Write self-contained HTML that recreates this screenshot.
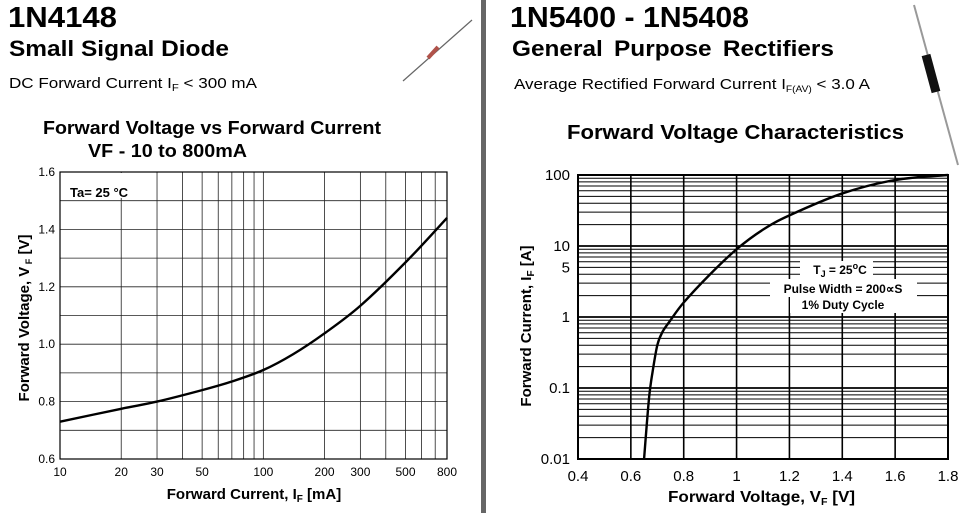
<!DOCTYPE html>
<html><head><meta charset="utf-8"><style>
html,body{margin:0;padding:0;background:#fff;}
svg{display:block;font-family:"Liberation Sans",Arial,sans-serif;}
</style></head><body>
<svg id="s" width="970" height="513" viewBox="0 0 970 513" xmlns="http://www.w3.org/2000/svg">
<text x="8" y="27" font-size="29" font-weight="bold" textLength="109" lengthAdjust="spacingAndGlyphs">1N4148</text>
<text x="9" y="56" font-size="22" font-weight="bold" textLength="220" lengthAdjust="spacingAndGlyphs">Small Signal Diode</text>
<text x="9" y="88" font-size="15" textLength="248" lengthAdjust="spacingAndGlyphs">DC Forward Current   I<tspan font-size="10" dy="3">F</tspan><tspan dy="-3"> &lt; 300  mA</tspan></text>
<text x="43" y="134" font-size="18" font-weight="bold" textLength="338" lengthAdjust="spacingAndGlyphs">Forward Voltage vs Forward Current</text>
<text x="88" y="157" font-size="18" font-weight="bold" textLength="159" lengthAdjust="spacingAndGlyphs">VF - 10 to 800mA</text>
<g>
<line x1="403" y1="81" x2="472" y2="20" stroke="#666" stroke-width="1.2"/>
<line x1="428" y1="58" x2="438" y2="47" stroke="#b0524a" stroke-width="4"/>
</g>
<rect x="481" y="0" width="5" height="513" fill="#666"/>
<text x="510" y="27" font-size="29" font-weight="bold" textLength="239" lengthAdjust="spacingAndGlyphs">1N5400 - 1N5408</text>
<text x="512" y="56" font-size="22" font-weight="bold" word-spacing="4" textLength="322" lengthAdjust="spacingAndGlyphs">General Purpose Rectifiers</text>
<text x="514" y="89" font-size="15" textLength="356" lengthAdjust="spacingAndGlyphs">Average Rectified Forward Current    I<tspan font-size="9" dy="3">F(AV)</tspan><tspan dy="-3"> &lt; 3.0  A</tspan></text>
<text x="567" y="139" font-size="20" font-weight="bold" textLength="337" lengthAdjust="spacingAndGlyphs">Forward Voltage Characteristics</text>
<g>
<line x1="914" y1="5" x2="958" y2="165" stroke="#999" stroke-width="2"/>
<line x1="926" y1="55" x2="936" y2="92" stroke="#111" stroke-width="9"/>
</g>
<g id="L"></g><g id="R"></g>
</svg>
<script>
// Left chart data
const leftCurrent = [10,20,30,50,70,100,140,200,300,500,800];
const leftVoltage = [0.73,0.775,0.80,0.84,0.87,0.91,0.965,1.038,1.134,1.285,1.44];
const leftXTicks = [10,20,30,50,100,200,300,500,800];
const leftYTicks = [0.6,0.8,1.0,1.2,1.4,1.6];
// Right chart data
const rightVoltage = [0.65,0.66,0.67,0.68,0.70,0.72,0.75,0.8,0.9,1.0,1.1,1.2,1.4,1.6,1.8];
const rightCurrent = [0.01,0.03,0.08,0.15,0.4,0.62,0.9,1.6,4,9,17,27,55,85,100];
const rightXTicks = [0.4,0.6,0.8,1.0,1.2,1.4,1.6,1.8];
const rightYTicks = [0.01,0.1,1,5,10,100];
const rightYLabels = ["0.01","0.1","1","5","10","100"];

const NS="http://www.w3.org/2000/svg";
function mk(p,t,a){const e=document.createElementNS(NS,t);for(const k in a)e.setAttribute(k,a[k]);p.appendChild(e);return e;}
function smooth(pts){let d="M"+pts[0][0]+","+pts[0][1];for(let i=0;i<pts.length-1;i++){const p0=pts[i-1]||pts[i],p1=pts[i],p2=pts[i+1],p3=pts[i+2]||p2;d+=" C"+(p1[0]+(p2[0]-p0[0])/6)+","+(p1[1]+(p2[1]-p0[1])/6)+" "+(p2[0]-(p3[0]-p1[0])/6)+","+(p2[1]-(p3[1]-p1[1])/6)+" "+p2[0]+","+p2[1];}return d;}

// LEFT
const L=document.getElementById('L');
const lx0=60,lx1=447,ly0=459,ly1=172;
const lX=v=>lx0+(Math.log10(v)-1)/(Math.log10(800)-1)*(lx1-lx0);
const lY=v=>ly0-(v-0.6)/1.0*(ly0-ly1);
[10,20,30,40,50,60,70,80,90,100,200,300,400,500,600,700,800].forEach(v=>{
 const l=mk(L,'line',{x1:lX(v),x2:lX(v),y1:ly1,y2:ly0,stroke:'#222','stroke-width':0.8});
 
 
});
for(let i=0;i<=10;i++){const v=0.6+i*0.1;
 const l=mk(L,'line',{x1:lx0,x2:lx1,y1:lY(v),y2:lY(v),stroke:'#222','stroke-width':0.8});
 
 
}
const lb=mk(L,'rect',{x:lx0,y:ly1,width:lx1-lx0,height:ly0-ly1,fill:'none',stroke:'#000','stroke-width':1.2});


const ta=mk(L,'rect',{x:lx0+1,y:ly1+1,width:78,height:25,fill:'#fff'});


const tt=mk(L,'text',{x:70,y:197,'font-size':13,'font-weight':'bold'});tt.textContent='Ta= 25 °C';


leftXTicks.forEach(v=>{const t=mk(L,'text',{x:lX(v),y:476,'font-size':12,'text-anchor':'middle'});t.textContent=v;
 
 });
leftYTicks.forEach(v=>{const t=mk(L,'text',{x:55,y:lY(v)+4,'font-size':12,'text-anchor':'end'});t.textContent=v.toFixed(1);
 
 });
const lc=mk(L,'path',{d:smooth(leftCurrent.map((c,i)=>[lX(c),lY(leftVoltage[i])])),fill:'none',stroke:'#000','stroke-width':2.4});


const lxt=mk(L,'text',{x:254,y:499,'font-size':15,'font-weight':'bold','text-anchor':'middle'});
lxt.innerHTML='Forward Current, I<tspan font-size="10" dy="3">F</tspan><tspan dy="-3"> [mA]</tspan>';


const lyt=mk(L,'text',{x:0,y:0,'font-size':15,'font-weight':'bold','text-anchor':'middle',transform:'translate(29,318) rotate(-90)'});
lyt.innerHTML='Forward Voltage, V<tspan font-size="9" dy="3"> F</tspan><tspan dy="-3"> [V]</tspan>';



// RIGHT
const R=document.getElementById('R');
const rx0=578,rx1=948,ry0=459,ry1=175;
const rX=v=>rx0+(v-0.4)/1.4*(rx1-rx0);
const rY=v=>ry0-(Math.log10(v)+2)/4*(ry0-ry1);
for(let d=-2;d<2;d++)for(let m=1;m<=10;m++){const v=m*Math.pow(10,d);
 const l=mk(R,'line',{x1:rx0,x2:rx1,y1:rY(v),y2:rY(v),stroke:'#000','stroke-width':(m==1||m==10)?1.6:1});
 
 
}
rightXTicks.forEach(v=>{
 const l=mk(R,'line',{x1:rX(v),x2:rX(v),y1:ry1,y2:ry0,stroke:'#000','stroke-width':1.6});
 
 
 const t=mk(R,'text',{x:rX(v),y:481,'font-size':15,'text-anchor':'middle'});t.textContent=(v===1?'1':v.toString());
 
 
});
const rb=mk(R,'rect',{x:rx0,y:ry1,width:rx1-rx0,height:ry0-ry1,fill:'none',stroke:'#000','stroke-width':2});


rightYTicks.forEach((v,i)=>{const t=mk(R,'text',{x:570,y:rY(v)+5,'font-size':15,'text-anchor':'end'});t.textContent=rightYLabels[i];
 
 });
[[800,261,73,18],[770,279,147,18],[790,297,107,16]].forEach(r=>{
 const b=mk(R,'rect',{x:r[0],y:r[1],width:r[2],height:r[3],fill:'#fff'});
 
 });
const a1=mk(R,'text',{x:840,y:274,'font-size':12,'font-weight':'bold','text-anchor':'middle'});
a1.innerHTML='T<tspan font-size="9" dy="3">J</tspan><tspan dy="-3"> = 25</tspan><tspan font-size="9" dy="-5">o</tspan><tspan dy="5">C</tspan>';


const a2=mk(R,'text',{x:843,y:293,'font-size':12,'font-weight':'bold','text-anchor':'middle'});a2.textContent='Pulse Width = 200∝S';


const a3=mk(R,'text',{x:843,y:309,'font-size':12,'font-weight':'bold','text-anchor':'middle'});a3.textContent='1% Duty Cycle';


const rc=mk(R,'path',{d:smooth(rightVoltage.map((v,i)=>[rX(v),rY(rightCurrent[i])])),fill:'none',stroke:'#000','stroke-width':2.4});


const rxt=mk(R,'text',{x:668,y:502,'font-size':16,'font-weight':'bold',textLength:187,lengthAdjust:'spacingAndGlyphs'});
rxt.innerHTML='Forward Voltage, V<tspan font-size="10" dy="3">F</tspan><tspan dy="-3"> [V]</tspan>';


const ryt=mk(R,'text',{x:0,y:0,'font-size':15,'font-weight':'bold','text-anchor':'middle',transform:'translate(531,326) rotate(-90)'});
ryt.innerHTML='Forward Current, I<tspan font-size="10" dy="3">F</tspan><tspan dy="-3"> [A]</tspan>';


</script>
</body></html>
